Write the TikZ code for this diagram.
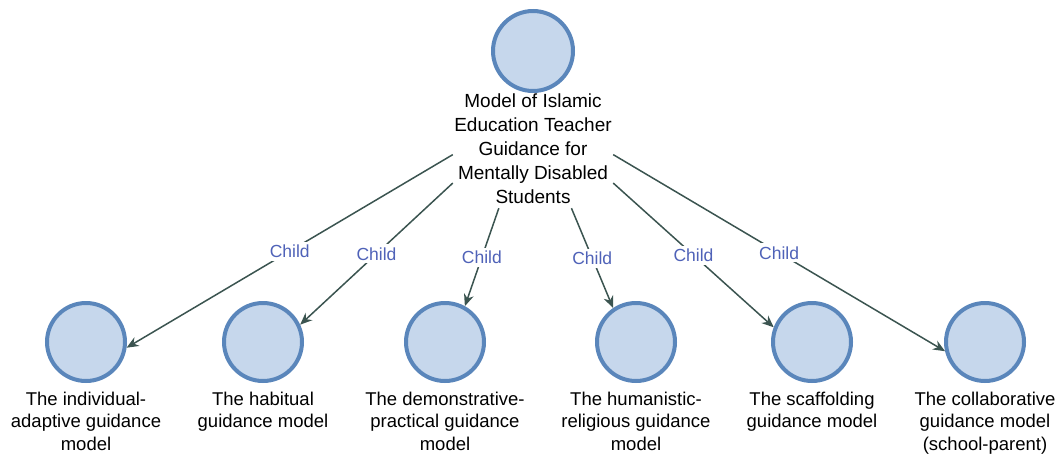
\documentclass[tikz,border=0pt]{standalone}
\usepackage{fontspec}
\setmainfont{Liberation Sans}
\usetikzlibrary{arrows.meta,positioning}
\definecolor{circfill}{HTML}{C6D7EC}
\definecolor{circdraw}{HTML}{5A86BB}
\definecolor{edgecol}{HTML}{3B5450}
\definecolor{childcol}{HTML}{4F62B8}
\tikzset{
  ball/.style={circle, draw=circdraw, fill=circfill, line width=4pt, minimum size=78pt, inner sep=0pt},
  topball/.style={ball, minimum size=80pt},
  blabel/.style={align=center, font=\fontsize{18.5}{22.3}\selectfont, inner sep=0pt},
  toptext/.style={align=center, font=\fontsize{19}{24}\selectfont, inner sep=0pt, minimum width=160pt, minimum height=118pt},
  edge/.style={draw=edgecol, line width=1.5pt, -{Stealth[length=12pt,width=10pt]}},
  lbl/.style={fill=white, text=childcol, inner sep=3pt, font=\fontsize{17.5}{20}\selectfont}
}
\begin{document}
\begin{tikzpicture}[x=1pt,y=-1pt]
\useasboundingbox (0,0) rectangle (1062,453);
\node[topball] (top) at (533,51) {};
\node[toptext] (txt) at (533,149) {Model of Islamic\\Education Teacher\\Guidance for\\Mentally Disabled\\Students};
\node[ball] (c1) at (86,342) {};
\node[ball] (c2) at (263,342) {};
\node[ball] (c3) at (445,342) {};
\node[ball] (c4) at (636,342) {};
\node[ball] (c5) at (812,342) {};
\node[ball] (c6) at (985,342) {};
\node[blabel, below=9pt of c1] (l1) {The individual-\\adaptive guidance\\model};
\node[blabel, below=9pt of c2] (l2) {The habitual\\guidance model};
\node[blabel, below=9pt of c3] (l3) {The demonstrative-\\practical guidance\\model};
\node[blabel, below=9pt of c4] (l4) {The humanistic-\\religious guidance\\model};
\node[blabel, below=9pt of c5] (l5) {The scaffolding\\guidance model};
\node[blabel, below=9pt of c6] (l6) {The collaborative\\guidance model\\(school-parent)};
\draw[edge] (txt.184.3) -- node[lbl] {Child} (c1.-8);
\draw[edge] (txt.203) -- node[lbl] {Child} (c2.25);
\draw[edge] (txt.240) -- node[lbl] {Child} (c3.61);
\draw[edge] (txt.303.5) -- node[lbl] {Child} (c4.124);
\draw[edge] (txt.337.6) -- node[lbl] {Child} (c5.159);
\draw[edge] (txt.356.4) -- node[lbl] {Child} (c6.193);
\end{tikzpicture}
\end{document}
